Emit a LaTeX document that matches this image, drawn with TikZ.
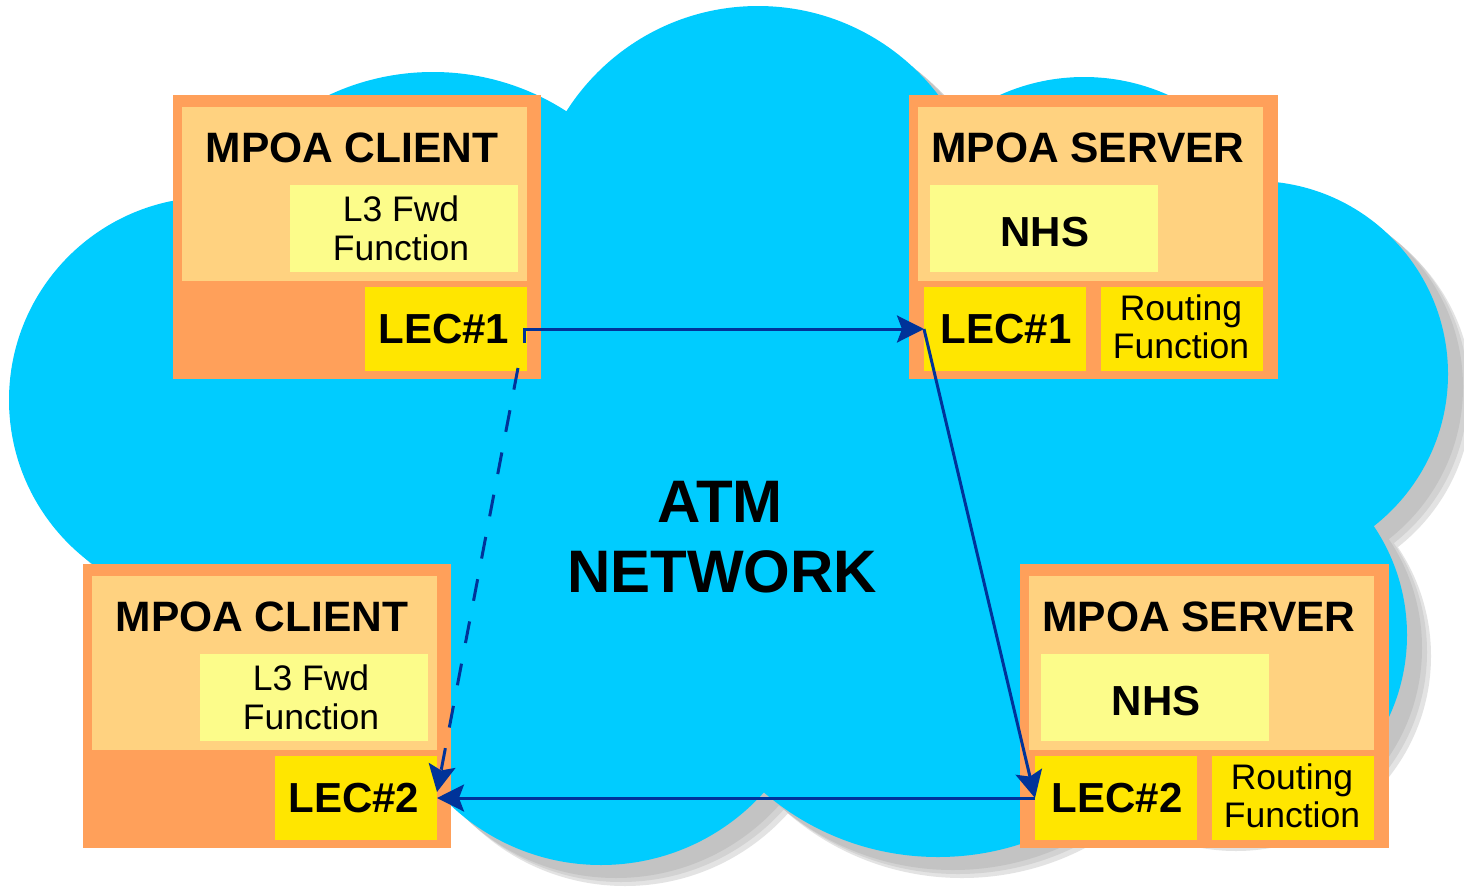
\documentclass[tikz,border=0pt]{standalone}
\usepackage{fontspec}
\setmainfont{Liberation Sans}
\usetikzlibrary{arrows.meta}

\definecolor{cloudblue}{HTML}{00CCFF}
\definecolor{boxorange}{HTML}{FFA05A}
\definecolor{boxpeach}{HTML}{FFD280}
\definecolor{boxpale}{HTML}{FCFC8A}
\definecolor{boxyellow}{HTML}{FFE600}
\definecolor{linknavy}{HTML}{003399}

\tikzset{
  cloud lobes/.style={insert path={
    (212,400) circle[radius=203pt]
    (433,318) circle[radius=246pt]
    (300,470) circle[radius=150pt]
    (758,233) circle[radius=227pt]
    (1084,282) circle[radius=205pt]
    (1255,374) circle[radius=193pt]
    (1212,635) circle[radius=195pt]
    (938,590) circle[radius=267pt]
    (601,646) circle[radius=219pt]}},
  panel/.style={draw=none, rectangle, inner sep=0pt, outer sep=0pt, anchor=north west},
  headtext/.style={anchor=base, inner sep=0pt, font=\fontsize{42.5}{46}\selectfont\bfseries},
  bodytext/.style={anchor=base, inner sep=0pt, font=\fontsize{35.5}{40}\selectfont},
  lectext/.style={anchor=base, inner sep=0pt, font=\fontsize{42}{46}\selectfont\bfseries},
  bigtext/.style={anchor=base, inner sep=0pt, font=\fontsize{60}{64}\selectfont\bfseries},
  link/.style={draw=linknavy, line width=3pt,
    -{Stealth[length=27pt,width=27pt,inset=5pt]}},
}

% MPOA client block: name prefix, x shift, y shift, LEC label
\newcommand\mpoaclient[4]{%
  \begin{scope}[shift={(#2,#3)}]
    \node[panel, fill=boxorange, minimum width=368pt, minimum height=284pt] (#1outer) at (173,95) {};
    \node[panel, fill=boxpeach, minimum width=345pt, minimum height=174pt] (#1inner) at (182,107) {};
    \node[panel, fill=boxpale, minimum width=228pt, minimum height=87pt] (#1fwd) at (290,185) {};
    \node[panel, fill=boxyellow, minimum width=162pt, minimum height=84pt] (#1lec) at (365,287) {};
    \node[headtext] (#1title) at (352,162) {MPOA CLIENT};
    \node[bodytext] (#1fwdA) at (401,221) {L3 Fwd};
    \node[bodytext] (#1fwdB) at (401,260) {Function};
    \node[lectext] (#1lectext) at (444,343) {#4};
  \end{scope}}

% MPOA server block: name prefix, x shift, y shift, LEC label
\newcommand\mpoaserver[4]{%
  \begin{scope}[shift={(#2,#3)}]
    \node[panel, fill=boxorange, minimum width=369pt, minimum height=284pt] (#1outer) at (909,95) {};
    \node[panel, fill=boxpeach, minimum width=345pt, minimum height=174pt] (#1inner) at (918,107) {};
    \node[panel, fill=boxpale, minimum width=228pt, minimum height=87pt] (#1nhs) at (930,185) {};
    \node[panel, fill=boxyellow, minimum width=162pt, minimum height=84pt] (#1lec) at (924,287) {};
    \node[panel, fill=boxyellow, minimum width=162pt, minimum height=84pt] (#1rout) at (1101,287) {};
    \node[headtext] (#1title) at (1088,162) {MPOA SERVER};
    \node[lectext] (#1nhstext) at (1045,246) {NHS};
    \node[lectext] (#1lectext) at (1006,343) {#4};
    \node[bodytext] (#1routA) at (1181,320) {Routing};
    \node[bodytext] (#1routB) at (1181,358) {Function};
  \end{scope}}

\begin{document}
\begin{tikzpicture}[x=1pt, y=-1pt]
  \useasboundingbox (0,0) rectangle (1464,886);
  \clip (0,0) rectangle (1464,886);
  \fill[white] (0,0) rectangle (1464,886);

  % soft drop shadow of the cloud
  \begin{scope}[shift={(24,21)}]
    \fill[gray!22, cloud lobes];
  \end{scope}
  \begin{scope}[shift={(20,17)}]
    \fill[gray!35, cloud lobes];
  \end{scope}
  \begin{scope}[shift={(15,13)}]
    \fill[gray!47, cloud lobes];
  \end{scope}

  % the ATM cloud
  \fill[cloudblue, cloud lobes];

  \node[bigtext] (atm) at (720,522) {ATM};
  \node[bigtext] (net) at (722,592) {NETWORK};

  \mpoaclient{ca}{0}{0}{LEC\#1}
  \mpoaclient{cb}{-90}{469}{LEC\#2}
  \mpoaserver{sa}{0}{0}{LEC\#1}
  \mpoaserver{sb}{111}{469}{LEC\#2}

  % connections between the LECs
  \draw[link] ([xshift=-3pt,yshift=-14pt]calec.east) |- (salec.west);
  \draw[link] (salec.west) -- (sblec.west);
  \draw[link] (sblec.west) -- (cblec.east);
  \draw[link, dash pattern=on 22pt off 21pt]
    ([xshift=-9pt,yshift=3pt]calec.south east) -- ([yshift=6pt]cblec.east);
\end{tikzpicture}
\end{document}
